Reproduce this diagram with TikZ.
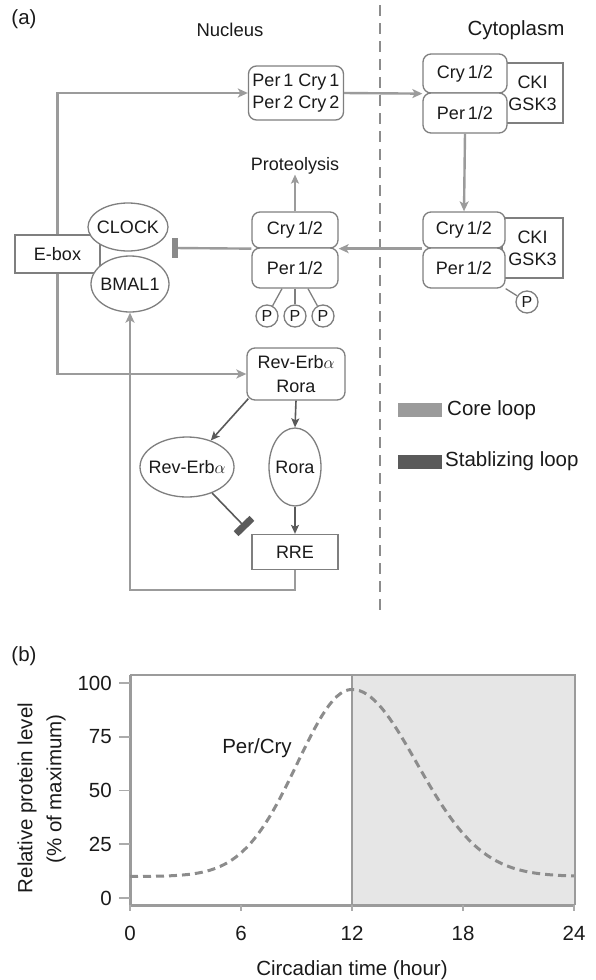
\documentclass[tikz,border=0pt]{standalone}
\usepackage{fontspec}
\setmainfont{Liberation Sans}
\usetikzlibrary{shapes.geometric,arrows.meta,calc}
\definecolor{coreC}{HTML}{9B9B9B}
\definecolor{coreD}{HTML}{8A8A8A}
\definecolor{stabC}{HTML}{5A5A5A}
\definecolor{bordC}{HTML}{7F7F7F}
\definecolor{textC}{HTML}{1A1A1A}
\definecolor{shadeC}{HTML}{E6E6E6}
\definecolor{curveC}{HTML}{8C8C8C}
\definecolor{tickC}{HTML}{ABABAB}
\newcommand\myNodeF{\fontsize{18}{22}\selectfont}
\newcommand\myBigF{\fontsize{20.5}{25}\selectfont}
\newcommand\myPF{\fontsize{16}{18}\selectfont}
\begin{document}
\begin{tikzpicture}[x=1pt,y=-1pt,
  bord/.style={draw=bordC, line width=1.3pt},
  rbox/.style={bord, rounded corners=8pt, fill=white, inner sep=0pt, font=\myNodeF, text=textC, align=center},
  sbox/.style={bord, fill=white, inner sep=0pt, font=\myNodeF, text=textC, align=center},
  ell/.style={bord, ellipse, fill=white, inner sep=0pt, font=\myNodeF, text=textC},
  pcirc/.style={bord, circle, fill=white, minimum size=22pt, inner sep=0pt, font=\myPF, text=textC},
  core/.style={draw=coreC, line width=2.4pt},
  corearr/.style={core, -{Stealth[length=10pt,width=9pt,inset=2.5pt]}},
  stab/.style={draw=stabC, line width=1.6pt},
  stabarr/.style={stab, -{Stealth[length=9pt,width=8pt,inset=2pt]}},
  lbl/.style={font=\myBigF, text=textC, inner sep=0pt},
  tickst/.style={draw=tickC, line width=1.6pt},
]
\useasboundingbox (0,0) rectangle (596,980);

% ---------- panel (a) ----------
\node[lbl] (la) at (24,19) {(a)};
\node[lbl, font=\fontsize{18.5}{22}\selectfont] (nuc) at (230,30) {Nucleus};
\node[lbl] (cyt) at (516,30) {Cytoplasm};
\coordinate (sepT) at (380,5);
\coordinate (sepB) at (380,610);
\draw[draw=curveC, line width=2pt, dash pattern=on 11pt off 7pt] (sepT) -- (sepB);

% top nucleus complex
\node[rbox, minimum width=95pt, minimum height=54pt] (pc) at (296,93) {Per\,1 Cry\,1\\Per\,2 Cry\,2};

% top cytoplasm group
\node[sbox, minimum width=61pt, minimum height=60pt] (ckiA) at (532.5,93) {CKI\\GSK3};
\node[rbox, minimum width=84pt, minimum height=39pt] (cryA) at (465,73.5) {Cry\,1/2};
\node[rbox, minimum width=84pt, minimum height=40pt] (perA) at (465,113) {Per\,1/2};

% second cytoplasm group
\node[sbox, minimum width=61pt, minimum height=60pt] (ckiB) at (532.5,248) {CKI\\GSK3};
\node[rbox, minimum width=82pt, minimum height=36pt] (cryB) at (464,230) {Cry\,1/2};
\node[rbox, minimum width=82pt, minimum height=40pt] (perB) at (464,268) {Per\,1/2};
\node[pcirc] (pB) at (527,302) {P};
\draw[bord] (perB.south east) -- (pB);

% middle nucleus complex
\node[rbox, minimum width=86pt, minimum height=36pt] (cryM) at (295,230) {Cry\,1/2};
\node[rbox, minimum width=86pt, minimum height=40pt] (perM) at (295,268) {Per\,1/2};
\node[pcirc] (pM1) at (267,316) {P};
\node[pcirc] (pM2) at (295,316) {P};
\node[pcirc] (pM3) at (323,316) {P};
\draw[bord] ($(perM.south)+(-13,0)$) -- (pM1);
\draw[bord] (perM.south) -- (pM2);
\draw[bord] ($(perM.south)+(13,0)$) -- (pM3);
\node[font=\myNodeF, text=textC, inner sep=0pt] (prot) at (295,166) {Proteolysis};

% E-box, CLOCK, BMAL1
\node[sbox, minimum width=85pt, minimum height=38pt] (ebox) at (57.5,254) {E-box};
\node[ell, minimum width=80pt, minimum height=48pt] (clock) at (128,227) {\makebox[0pt]{CLOCK}};
\node[ell, minimum width=78pt, minimum height=56pt] (bmal) at (130,284) {\makebox[0pt]{BMAL1}};

% Rev-Erb / Rora
\node[rbox, minimum width=98pt, minimum height=52pt, font=\fontsize{18}{24}\selectfont] (rr) at (296,374) {Rev-Erb$\alpha$\\Rora};
\node[ell, minimum width=94pt, minimum height=60pt] (revE) at (187,467) {\makebox[0pt]{Rev-Erb$\alpha$}};
\node[ell, minimum width=52pt, minimum height=78pt] (rora) at (295,467) {\makebox[0pt]{Rora}};
\node[sbox, minimum width=86pt, minimum height=35pt] (rre) at (295,552) {RRE};

% connectors (core loop)
\draw[corearr] (ebox.north) |- (pc.west);
\draw[corearr] (ebox.south) |- (rr.west);
\draw[corearr] (pc.east) -- (cryA.south west);
\draw[corearr] (perA.south) -- (cryB.north);
\draw[corearr] (cryB.south west) -- (cryM.south east);
\coordinate (inhE) at (175,248);
\draw[core] (cryM.south west) -- (inhE);
\draw[draw=coreD, line width=6pt] ($(inhE)+(0,-10)$) -- ($(inhE)+(0,10)$);
\draw[corearr] (rre.south) -- ++(0,20) -| (bmal.south);
\draw[draw=coreC, line width=1.8pt, -{Stealth[length=9pt,width=8pt,inset=2pt]}] (cryM.north) -- (prot.south);

% connectors (stabilizing loop)
\draw[stabarr] ($(rr.south west)+(2,-2)$) -- (revE);
\draw[stabarr] (rr.south) -- (rora.north);
\draw[stabarr] (rora.south) -- (rre.north);
\coordinate (inhR) at (244,526);
\draw[stab] (revE) -- (inhR);
\draw[draw=stabC, line width=7pt] ($(inhR)!11pt!90:(revE)$) -- ($(inhR)!11pt!-90:(revE)$);

% legend
\node[fill=coreC, minimum width=44pt, minimum height=14pt, inner sep=0pt] (lg1) at (420,410) {};
\node[lbl, anchor=west] (lt1) at (447,410) {Core loop};
\node[fill=stabC, minimum width=44pt, minimum height=14pt, inner sep=0pt] (lg2) at (420,461.5) {};
\node[lbl, anchor=west] (lt2) at (445,461.5) {Stablizing loop};

% ---------- panel (b) ----------
\node[lbl] (lb) at (24,656) {(b)};
\fill[shadeC] (352,675) rectangle (575,905);
\draw[draw=coreC, line width=1.5pt] (130,675) -- (575,675) -- (575,905);
\draw[draw=coreC, line width=1.3pt] (352,675) -- (352,905);
\draw[draw=coreC, line width=3pt] (130,675) -- (130,905) -- (575,905);
\foreach \v in {0,25,50,75,100} {
  \draw[tickst] (119,{898-2.15*\v}) -- (130,{898-2.15*\v});
  \node[lbl, anchor=east] (yt\v) at (112,{898-2.15*\v}) {\v};
}
\foreach \t in {0,6,12,18,24} {
  \draw[tickst] ({130+18.5*\t},905) -- ({130+18.5*\t},911);
  \node[lbl] (xt\t) at ({130+18.5*\t},933) {\t};
}
\node[lbl] (xl) at (352,970) {Circadian time (hour)};
\node[lbl, rotate=90] (yl1) at (27,798) {Relative protein level};
\node[lbl, rotate=90] (yl2) at (56,789) {(\% of maximum)};
\node[lbl] (pcl) at (257,748) {Per/Cry};
\draw[draw=curveC, line width=3pt, dash pattern=on 8pt off 5pt]
  plot[domain=0:12, samples=60] ({130+18.5*\x},{898-2.15*(10+87*exp(-(\x-12)*(\x-12)/17.4))})
  -- plot[domain=12:24, samples=60] ({130+18.5*\x},{898-2.15*(10+87*exp(-(\x-12)*(\x-12)/24.5))});
\end{tikzpicture}
\end{document}
